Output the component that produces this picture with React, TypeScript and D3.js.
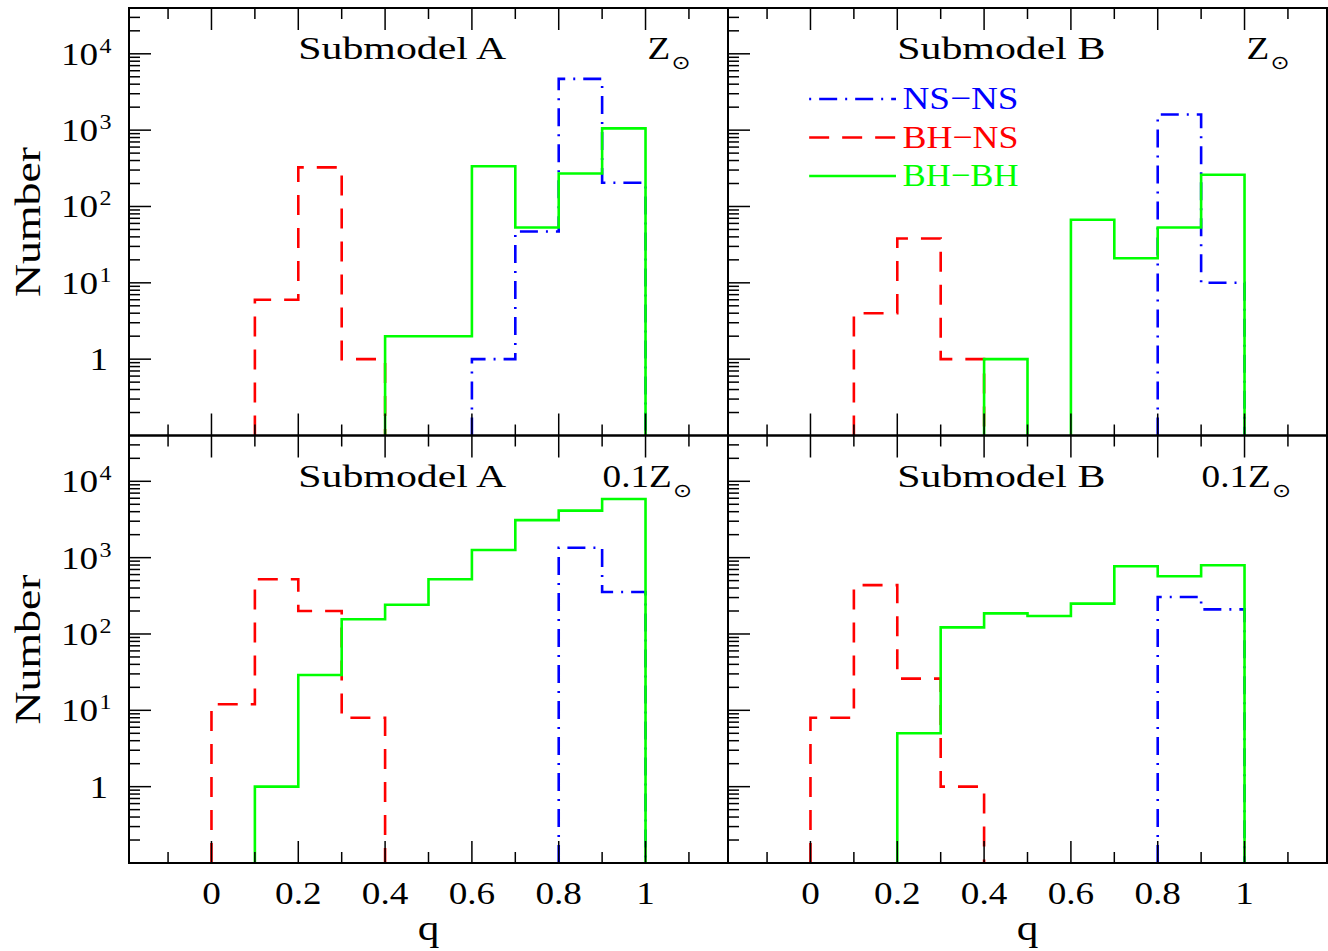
import React from "react";
import * as d3 from "d3";

// ---- data ----
const binEdges = [0, 0.1, 0.2, 0.3, 0.4, 0.5, 0.6, 0.7, 0.8, 0.9, 1.0];
const seriesNames = ["NS\u2212NS", "BH\u2212NS", "BH\u2212BH"];
const seriesColors = ["#0000ff", "#ff0000", "#00ff00"];
const seriesDash = ["18,8,2,8", "20,13", "none"];

// Submodel A, Z_sun
const nsnsASol = [0, 0, 0, 0, 0, 0, 1, 47, 4700, 205];
const bhnsASol = [0, 6, 325, 1, 0, 0, 0, 0, 0, 0];
const bhbhASol = [0, 0, 0, 0, 2, 2, 336, 53, 270, 1055];
// Submodel B, Z_sun
const nsnsBSol = [0, 0, 0, 0, 0, 0, 0, 0, 1600, 10];
const bhnsBSol = [0, 4, 38, 1, 0, 0, 0, 0, 0, 0];
const bhbhBSol = [0, 0, 0, 0, 1, 0, 67, 21, 53, 260];
// Submodel A, 0.1 Z_sun
const nsnsALow = [0, 0, 0, 0, 0, 0, 0, 0, 1350, 355];
const bhnsALow = [12, 520, 200, 8, 0, 0, 0, 0, 0, 0];
const bhbhALow = [0, 1, 29, 156, 242, 520, 1260, 3100, 4130, 5860];
// Submodel B, 0.1 Z_sun
const nsnsBLow = [0, 0, 0, 0, 0, 0, 0, 0, 305, 210];
const bhnsBLow = [8, 437, 26, 1, 0, 0, 0, 0, 0, 0];
const bhbhBLow = [0, 0, 5, 122, 186, 172, 250, 770, 570, 795];

const xMajorTicks = [0, 0.2, 0.4, 0.6, 0.8, 1.0];
const xMajorLabels = ["0", "0.2", "0.4", "0.6", "0.8", "1"];
const xMinorTicks = [-0.1, 0.1, 0.3, 0.5, 0.7, 0.9, 1.1];
const yMajorTicks = [1, 10, 100, 1000, 10000];
const yMajorLabels = [
  { base: "1", exp: "" },
  { base: "10", exp: "1" },
  { base: "10", exp: "2" },
  { base: "10", exp: "3" },
  { base: "10", exp: "4" },
];

const panels = [
  { col: 0, row: 0, title: "Submodel A", metal: "", series: [nsnsASol, bhnsASol, bhbhASol], legend: false },
  { col: 1, row: 0, title: "Submodel B", metal: "", series: [nsnsBSol, bhnsBSol, bhbhBSol], legend: true },
  { col: 0, row: 1, title: "Submodel A", metal: "0.1", series: [nsnsALow, bhnsALow, bhbhALow], legend: false },
  { col: 1, row: 1, title: "Submodel B", metal: "0.1", series: [nsnsBLow, bhnsBLow, bhbhBLow], legend: false },
];

// ---- layout ----
const W = 1328;
const H = 951;
const left = 129;
const top = 8;
const panelW = 599;
const panelH = 427.5;
const FONT = "'Liberation Serif', 'Times New Roman', serif";
const SX = 1.2;

function ST({
  x,
  y,
  anchor = "start",
  size = 31,
  fill = "#000",
  children,
}: {
  x: number;
  y: number;
  anchor?: string;
  size?: number;
  fill?: string;
  children: React.ReactNode;
}) {
  return (
    <g transform={`translate(${x},${y}) scale(${SX},1)`}>
      <text x={0} y={0} textAnchor={anchor} fontSize={size} fontFamily={FONT} fill={fill}>
        {children}
      </text>
    </g>
  );
}

function Panel({ p }: { p: (typeof panels)[number] }) {
  const x0 = left + p.col * panelW;
  const y0 = top + p.row * panelH;
  const x = d3.scaleLinear().domain([-0.19, 1.19]).range([x0, x0 + panelW]);
  const y = d3.scaleLog().domain([0.1, Math.pow(10, 4.6)]).range([y0 + panelH, y0]);
  const yb = y0 + panelH;

  const minorY: number[] = [];
  for (let k = -1; k <= 4; k++) {
    for (let m = 2; m <= 9; m++) {
      const v = m * Math.pow(10, k);
      if (v < Math.pow(10, 4.6)) minorY.push(v);
    }
  }

  const stepPath = (vals: number[]) => {
    let d = "";
    let inRun = false;
    vals.forEach((v, i) => {
      const xl = x(binEdges[i]);
      const xr = x(binEdges[i + 1]);
      if (v > 0) {
        if (!inRun) {
          d += `M${xl},${yb}`;
          inRun = true;
        }
        d += `L${xl},${y(v)}L${xr},${y(v)}`;
        const next = vals[i + 1];
        if (!(next > 0)) {
          d += `L${xr},${yb}`;
          inRun = false;
        }
      }
    });
    return d;
  };

  const isLeft = p.col === 0;
  const isBottom = p.row === 1;

  return (
    <g>
      <defs>
        <clipPath id={`clip-${p.col}-${p.row}`}>
          <rect x={x0} y={y0} width={panelW} height={panelH} />
        </clipPath>
      </defs>
      {/* histograms */}
      <g clipPath={`url(#clip-${p.col}-${p.row})`}>
        {[1, 0, 2].map((si) => (
          <path
            key={si}
            d={stepPath(p.series[si])}
            fill="none"
            stroke={seriesColors[si]}
            strokeWidth={2.6}
            strokeDasharray={seriesDash[si]}
          />
        ))}
      </g>
      {/* x ticks top and bottom */}
      {xMajorTicks.map((t) => (
        <g key={"xM" + t}>
          <line x1={x(t)} x2={x(t)} y1={y0} y2={y0 + 22} stroke="#000" strokeWidth={1.5} />
          <line x1={x(t)} x2={x(t)} y1={yb} y2={yb - 22} stroke="#000" strokeWidth={1.5} />
        </g>
      ))}
      {xMinorTicks.map((t) => (
        <g key={"xm" + t}>
          <line x1={x(t)} x2={x(t)} y1={y0} y2={y0 + 11} stroke="#000" strokeWidth={1.5} />
          <line x1={x(t)} x2={x(t)} y1={yb} y2={yb - 11} stroke="#000" strokeWidth={1.5} />
        </g>
      ))}
      {/* y ticks left */}
      {yMajorTicks.map((t) => (
        <line key={"yM" + t} x1={x0} x2={x0 + 22} y1={y(t)} y2={y(t)} stroke="#000" strokeWidth={1.5} />
      ))}
      {minorY.map((t) => (
        <line key={"ym" + t} x1={x0} x2={x0 + 11} y1={y(t)} y2={y(t)} stroke="#000" strokeWidth={1.5} />
      ))}
      {/* frame */}
      <rect x={x0} y={y0} width={panelW} height={panelH} fill="none" stroke="#000" strokeWidth={2} />

      {/* y labels */}
      {isLeft &&
        yMajorTicks.map((t, i) => {
          const lab = yMajorLabels[i];
          return lab.exp === "" ? (
            <ST key={"yl" + t} x={108} y={y(t) + 11} anchor="end">
              {lab.base}
            </ST>
          ) : (
            <ST key={"yl" + t} x={61} y={y(t) + 11}>
              {lab.base}
              <tspan dx={1} dy={-12} fontSize={20}>
                {lab.exp}
              </tspan>
            </ST>
          );
        })}
      {/* x labels */}
      {isBottom &&
        xMajorTicks.map((t, i) => (
          <ST key={"xl" + t} x={x(t)} y={904} anchor="middle">
            {xMajorLabels[i]}
          </ST>
        ))}
      {isBottom && (
        <ST x={x(0.5)} y={940} anchor="middle" size={36}>
          q
        </ST>
      )}
      {isLeft && (
        <text
          transform={`translate(40,${y0 + 214}) rotate(-90)`}
          textAnchor="middle"
          fontSize={36}
          fontFamily={FONT}
          textLength={150}
          lengthAdjust="spacingAndGlyphs"
        >
          Number
        </text>
      )}
      {/* titles */}
      <text
        x={x(0.2)}
        y={y0 + 51}
        fontSize={32}
        fontFamily={FONT}
        textLength={208}
        lengthAdjust="spacingAndGlyphs"
      >
        {p.title}
      </text>
      {p.metal === "" ? (
        <ST x={x(1.0) + 2} y={y0 + 51}>
          Z
          <tspan dx={1} dy={10} fontSize={19} fontFamily="'DejaVu Sans', sans-serif">
            {"\u2299"}
          </tspan>
        </ST>
      ) : (
        <ST x={x(1.0) - 43} y={y0 + 51}>
          0.1Z
          <tspan dx={1} dy={10} fontSize={19} fontFamily="'DejaVu Sans', sans-serif">
            {"\u2299"}
          </tspan>
        </ST>
      )}
      {/* legend */}
      {p.legend &&
        [0, 1, 2].map((si) => {
          const ly = y0 + 91 + si * 38.5;
          return (
            <g key={"lg" + si}>
              <line
                x1={x(-0.003)}
                x2={x(0.197)}
                y1={ly}
                y2={ly}
                stroke={seriesColors[si]}
                strokeWidth={2.6}
                strokeDasharray={si === 0 ? "2,8,18,8" : seriesDash[si]}
              />
              <text
                x={x(0.212)}
                y={ly + 10}
                fontSize={32}
                fontFamily={FONT}
                fill={seriesColors[si]}
                textLength={116}
                lengthAdjust="spacingAndGlyphs"
              >
                {seriesNames[si]}
              </text>
            </g>
          );
        })}
    </g>
  );
}

export default function App() {
  return (
    <svg width={W} height={H} style={{ display: "block", position: "absolute", left: 0, top: 0 }}>
      <rect width={W} height={H} fill="#fff" />
      {panels.map((p, i) => (
        <Panel key={i} p={p} />
      ))}
    </svg>
  );
}
